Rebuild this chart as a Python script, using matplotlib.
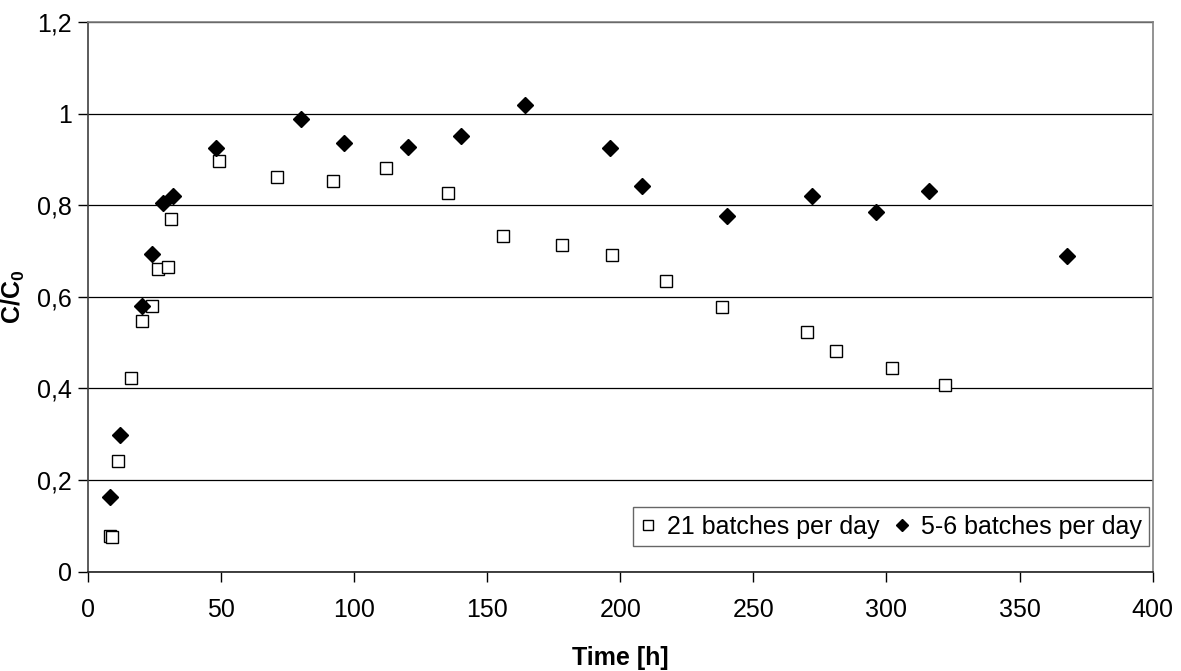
import matplotlib
matplotlib.use("Agg")
import matplotlib.pyplot as plt
from matplotlib.ticker import FuncFormatter, MultipleLocator

plt.rcParams["font.family"] = ["Liberation Sans", "DejaVu Sans"]
plt.rcParams["mathtext.fontset"] = "custom"
plt.rcParams["mathtext.rm"] = "Liberation Sans"
plt.rcParams["mathtext.bf"] = "Liberation Sans:bold"

# ── Data ─────────────────────────────────────────────────────────
t_21 = [8, 9, 11, 16, 20, 24, 26, 30, 31, 49, 71, 92, 112, 135, 156,
        178, 197, 217, 238, 270, 281, 302, 322]
c_21 = [0.078, 0.076, 0.242, 0.423, 0.547, 0.580, 0.660, 0.665, 0.771,
        0.897, 0.862, 0.854, 0.882, 0.826, 0.732, 0.714, 0.691, 0.634,
        0.578, 0.524, 0.482, 0.444, 0.407]

t_56 = [8, 12, 20, 24, 28, 32, 48, 80, 96, 120, 140, 164, 196, 208,
        240, 272, 296, 316, 368]
c_56 = [0.164, 0.298, 0.580, 0.693, 0.804, 0.820, 0.926, 0.988, 0.936,
        0.928, 0.952, 1.018, 0.926, 0.841, 0.776, 0.820, 0.786, 0.832,
        0.690]

LABEL_21 = "21 batches per day"
LABEL_56 = "5-6 batches per day"

# ── Figure ───────────────────────────────────────────────────────
fig = plt.figure(figsize=(11.81, 6.71), dpi=100)
ax = fig.add_axes([0.0748, 0.148, 0.9011, 0.8192])

ax.plot(t_21, c_21, linestyle="none", marker="s", markersize=8.5,
        markerfacecolor="white", markeredgecolor="black",
        markeredgewidth=1.0, label=LABEL_21, zorder=3)
ax.plot(t_56, c_56, linestyle="none", marker="D", markersize=8,
        markerfacecolor="black", markeredgecolor="black",
        label=LABEL_56, zorder=3)

ax.set_xlim(0, 400)
ax.set_ylim(0, 1.2)
ax.xaxis.set_major_locator(MultipleLocator(50))
ax.yaxis.set_major_locator(MultipleLocator(0.2))

comma = FuncFormatter(lambda v, p: f"{v:g}".replace(".", ","))
ax.yaxis.set_major_formatter(comma)

ax.grid(axis="y", color="black", linewidth=0.9)
ax.set_axisbelow(True)

for side in ["top", "right"]:
    ax.spines[side].set_color("#808080")
    ax.spines[side].set_linewidth(1.2)
ax.spines["left"].set_color("#404040")
ax.spines["bottom"].set_color("#202020")
ax.spines["left"].set_linewidth(1.2)
ax.spines["bottom"].set_linewidth(1.2)

ax.tick_params(axis="both", direction="out", length=7, width=1,
               labelsize=18, colors="black")
ax.tick_params(axis="x", pad=12)
ax.tick_params(axis="y", pad=5)

ax.set_xlabel("Time [h]", fontsize=18, fontweight="bold", labelpad=17)
ax.set_ylabel(r"$\mathbf{C/C_0}$", fontsize=18)
ax.yaxis.set_label_coords(-0.0575, 0.5)

leg = ax.legend(loc="lower right", bbox_to_anchor=(0.997, 0.046),
                ncol=2, fontsize=18, frameon=True, fancybox=False,
                markerscale=0.8, handlelength=0.6, handletextpad=0.45,
                columnspacing=0.6, borderpad=0.3, borderaxespad=0)
leg.get_frame().set_edgecolor("#404040")
leg.get_frame().set_linewidth(1.0)

fig.savefig("out.png", dpi=100)
